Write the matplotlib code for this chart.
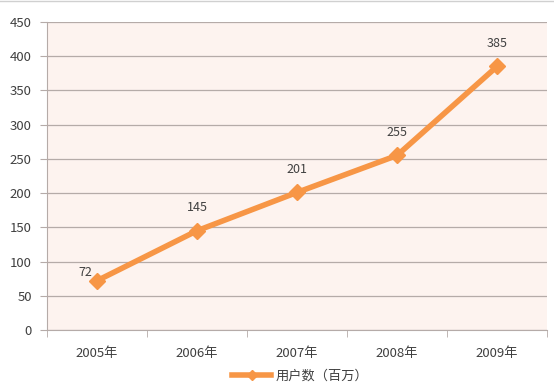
import matplotlib
matplotlib.use("Agg")
import matplotlib.pyplot as plt
from matplotlib.lines import Line2D

plt.rcParams['font.family'] = ['Noto Sans CJK SC', 'DejaVu Sans']

categories = ['2005年', '2006年', '2007年', '2008年', '2009年']
users = [72, 145, 201, 255, 385]
series_name = '用户数（百万）'
yticks = [0, 50, 100, 150, 200, 250, 300, 350, 400, 450]

orange = '#F79646'
grid_c = '#B5ABA8'
text_c = '#404040'

fig = plt.figure(figsize=(5.54, 3.89), dpi=100)
ax = fig.add_axes([47/554, 59/389, 500/554, 308/389])
ax.set_facecolor('#FDF3EF')

x = list(range(len(categories)))
ax.plot(x, users, color=orange, lw=4, marker='D', ms=8, mec=orange, mfc=orange, zorder=3)
for xi, v in zip(x, users):
    if xi == 0:
        ax.annotate(str(v), (xi, v), xytext=(-8.5, 6), textcoords='offset points',
                    ha='center', va='center', fontsize=9, color=text_c)
    else:
        ax.annotate(str(v), (xi, v), xytext=(0, 12), textcoords='offset points',
                    ha='center', va='bottom', fontsize=9, color=text_c)

ax.set_xlim(-0.5, len(categories) - 0.5)
ax.set_ylim(0, 450)
ax.set_yticks(yticks)
ax.set_yticklabels([str(t) for t in yticks], fontsize=9.5, color=text_c)
ax.yaxis.grid(True, color=grid_c, lw=0.9)
ax.set_axisbelow(True)

ax.set_xticks(x)
ax.set_xticklabels(categories, fontsize=9.5, color=text_c)
ax.tick_params(axis='x', length=0, pad=12)
ax.set_xticks([i + 0.5 for i in range(-1, len(categories))], minor=True)
ax.tick_params(axis='x', which='minor', length=5, color=grid_c)
ax.tick_params(axis='y', length=5, color=grid_c, pad=6)

for s in ['top', 'right']:
    ax.spines[s].set_visible(False)
for s in ['left', 'bottom']:
    ax.spines[s].set_color(grid_c)

handle = Line2D([0], [0], color=orange, lw=4, marker='D', ms=5)
fig.legend([handle], [series_name], loc='center', bbox_to_anchor=(300/554, 1 - 376/389),
           frameon=False, fontsize=9.5, labelcolor=text_c, handlelength=3, handletextpad=0.3)

fig.add_artist(Line2D([0, 1], [0.997, 0.997], color='#D0D0D0', lw=1, transform=fig.transFigure))

fig.savefig('out.png', dpi=100)
